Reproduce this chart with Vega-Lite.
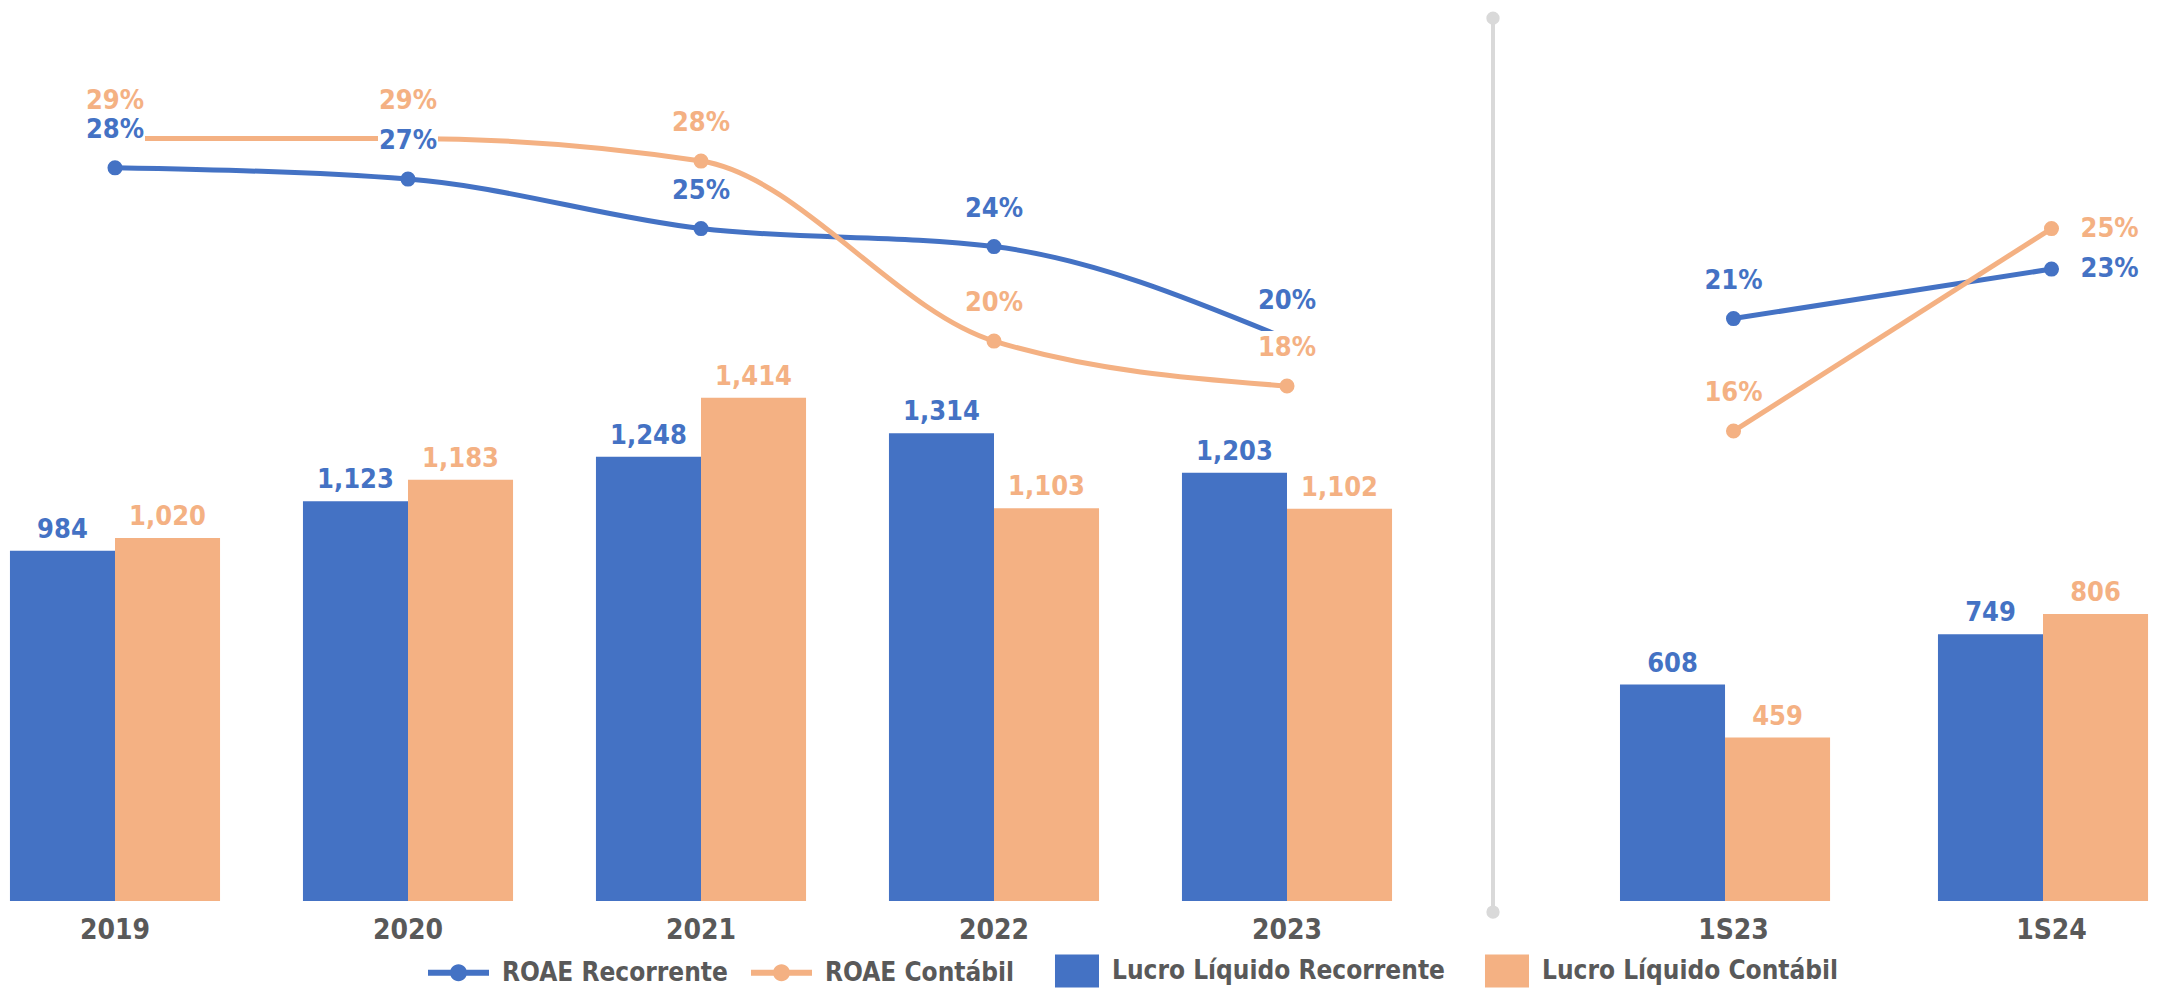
{
  "$schema": "https://vega.github.io/schema/vega-lite/v6.json",
  "padding": 0,
  "background": "white",
  "spacing": 0,
  "config": {
    "view": {"stroke": null},
    "font": "DejaVu Sans Condensed, Liberation Sans Narrow, sans-serif",
    "concat": {"spacing": 0}
  },
  "datasets": {
    "bars": [
      {"period": "2019", "series": "Lucro Líquido Recorrente", "value": 984, "section": "Anual"},
      {"period": "2019", "series": "Lucro Líquido Contábil", "value": 1020, "section": "Anual"},
      {"period": "2020", "series": "Lucro Líquido Recorrente", "value": 1123, "section": "Anual"},
      {"period": "2020", "series": "Lucro Líquido Contábil", "value": 1183, "section": "Anual"},
      {"period": "2021", "series": "Lucro Líquido Recorrente", "value": 1248, "section": "Anual"},
      {"period": "2021", "series": "Lucro Líquido Contábil", "value": 1414, "section": "Anual"},
      {"period": "2022", "series": "Lucro Líquido Recorrente", "value": 1314, "section": "Anual"},
      {"period": "2022", "series": "Lucro Líquido Contábil", "value": 1103, "section": "Anual"},
      {"period": "2023", "series": "Lucro Líquido Recorrente", "value": 1203, "section": "Anual"},
      {"period": "2023", "series": "Lucro Líquido Contábil", "value": 1102, "section": "Anual"},
      {"period": "1S23", "series": "Lucro Líquido Recorrente", "value": 608, "section": "Semestral"},
      {"period": "1S23", "series": "Lucro Líquido Contábil", "value": 459, "section": "Semestral"},
      {"period": "1S24", "series": "Lucro Líquido Recorrente", "value": 749, "section": "Semestral"},
      {"period": "1S24", "series": "Lucro Líquido Contábil", "value": 806, "section": "Semestral"}
    ],
    "roae": [
      {"period": "2019", "series": "ROAE Recorrente", "value": 0.277, "section": "Anual"},
      {"period": "2020", "series": "ROAE Recorrente", "value": 0.272, "section": "Anual"},
      {"period": "2021", "series": "ROAE Recorrente", "value": 0.250, "section": "Anual"},
      {"period": "2022", "series": "ROAE Recorrente", "value": 0.242, "section": "Anual"},
      {"period": "2023", "series": "ROAE Recorrente", "value": 0.201, "section": "Anual"},
      {"period": "2019", "series": "ROAE Contábil", "value": 0.290, "section": "Anual"},
      {"period": "2020", "series": "ROAE Contábil", "value": 0.290, "section": "Anual"},
      {"period": "2021", "series": "ROAE Contábil", "value": 0.280, "section": "Anual"},
      {"period": "2022", "series": "ROAE Contábil", "value": 0.200, "section": "Anual"},
      {"period": "2023", "series": "ROAE Contábil", "value": 0.180, "section": "Anual"},
      {"period": "1S23", "series": "ROAE Recorrente", "value": 0.210, "section": "Semestral"},
      {"period": "1S24", "series": "ROAE Recorrente", "value": 0.232, "section": "Semestral"},
      {"period": "1S23", "series": "ROAE Contábil", "value": 0.160, "section": "Semestral"},
      {"period": "1S24", "series": "ROAE Contábil", "value": 0.250, "section": "Semestral"}
    ]
  },
  "hconcat": [
    {
      "width": 1402,
      "height": 901,
      "layer": [
        {
          "data": {"name": "bars"},
          "transform": [{"filter": "datum.section === 'Anual'"}],
          "encoding": {
            "x": {"field": "period", "type": "nominal",
              "scale": {"domain": ["2019", "2020", "2021", "2022", "2023"], "paddingInner": 0.283, "paddingOuter": 0.034},
              "axis": {"title": null, "labelAngle": 0, "ticks": false, "domain": false, "grid": false, "labelFontSize": 28, "labelFontWeight": "bold", "labelColor": "#595959", "labelPadding": 15}},
            "xOffset": {"field": "series", "type": "nominal", "scale": {"domain": ["Lucro Líquido Recorrente", "Lucro Líquido Contábil"]}},
            "y": {"field": "value", "type": "quantitative", "scale": {"domain": [0, 2531], "nice": false, "zero": false}, "axis": null}
          },
          "layer": [
            {
              "mark": {"type": "bar"},
              "encoding": {
                "color": {"field": "series", "type": "nominal",
                  "scale": {"domain": ["ROAE Recorrente", "ROAE Contábil", "Lucro Líquido Recorrente", "Lucro Líquido Contábil"], "range": ["#4472C4", "#F4B183", "#4472C4", "#F4B183"]},
                  "legend": {
                    "orient": "none", "legendX": 428, "legendY": 940, "direction": "horizontal", "columns": 4, "title": null,
                    "padding": 0, "symbolSize": 3721, "symbolStrokeWidth": 0, "symbolOpacity": 1,
                    "labelFontSize": 26, "labelFontWeight": "bold", "labelColor": "#595959", "labelOffset": 13, "columnPadding": 23, "labelLimit": 600,
                    "encode": {
                      "symbols": {
                        "update": {
                          "shape": {"signal": "(datum.value === 'ROAE Recorrente' || datum.value === 'ROAE Contábil') ? 'M-1,-0.1H1V0.1H-1Z M0.279,0A0.279,0.279 0 1,1 -0.279,0A0.279,0.279 0 1,1 0.279,0Z' : 'M-0.443,-0.541H1V0.541H-0.443Z'"},
                          "fill": {"scale": "color", "field": "value"},
                          "opacity": {"value": 1}
                        }
                      }
                    }
                  }
                }
              }
            },
            {
              "mark": {"type": "text", "baseline": "alphabetic", "dy": -13, "fontSize": 27, "fontWeight": "bold"},
              "encoding": {
                "text": {"field": "value", "type": "quantitative", "format": ",.0f"},
                "color": {"field": "series", "type": "nominal", "legend": null}
              }
            }
          ]
        },
        {
          "data": {"name": "roae"},
          "transform": [{"filter": "datum.section === 'Anual'"}],
          "encoding": {
            "x": {"field": "period", "type": "nominal",
              "scale": {"domain": ["2019", "2020", "2021", "2022", "2023"], "paddingInner": 0.283, "paddingOuter": 0.034},
              "axis": {"title": null, "labelAngle": 0, "ticks": false, "domain": false, "grid": false, "labelFontSize": 28, "labelFontWeight": "bold", "labelColor": "#595959", "labelPadding": 15}},
            "y": {"field": "value", "type": "quantitative", "scale": {"domain": [-0.0489, 0.3516], "nice": false, "zero": false}, "axis": null}
          },
          "layer": [
            {
              "mark": {"type": "line", "interpolate": "monotone", "strokeWidth": 5},
              "encoding": {"color": {"field": "series", "type": "nominal", "legend": null}}
            },
            {
              "mark": {"type": "point", "filled": true, "size": 227, "opacity": 1},
              "encoding": {"color": {"field": "series", "type": "nominal", "legend": null}}
            },
            {
              "mark": {"type": "point", "filled": true, "opacity": 1, "color": "white", "size": 3600, "yOffset": -37, "shape": "M-1,-0.6H1V0.6H-1Z"}
            },
            {
              "mark": {"type": "text", "baseline": "middle", "dy": -38, "fontSize": 27, "fontWeight": "bold"},
              "encoding": {
                "text": {"field": "value", "type": "quantitative", "format": ".0%"},
                "color": {"field": "series", "type": "nominal", "legend": null}
              }
            }
          ]
        }
      ],
      "resolve": {"scale": {"y": "independent"}}
    },
    {
      "width": 182,
      "height": 901,
      "data": {"values": [{"divider": "separador", "inicio": 2480, "fim": -31}]},
      "encoding": {
        "x": {"field": "divider", "type": "nominal", "axis": null}
      },
      "layer": [
        {
          "mark": {"type": "rule", "color": "#D9D9D9", "strokeWidth": 4},
          "encoding": {
            "y": {"field": "inicio", "type": "quantitative", "scale": {"domain": [0, 2531], "nice": false, "zero": false}, "axis": null},
            "y2": {"field": "fim"}
          }
        },
        {
          "mark": {"type": "point", "filled": true, "color": "#D9D9D9", "size": 177, "opacity": 1},
          "encoding": {"y": {"field": "inicio", "type": "quantitative", "axis": null}}
        },
        {
          "mark": {"type": "point", "filled": true, "color": "#D9D9D9", "size": 177, "opacity": 1},
          "encoding": {"y": {"field": "fim", "type": "quantitative", "axis": null}}
        }
      ]
    },
    {
      "width": 595,
      "height": 901,
      "layer": [
        {
          "data": {"name": "bars"},
          "transform": [{"filter": "datum.section === 'Semestral'"}],
          "encoding": {
            "x": {"field": "period", "type": "nominal",
              "scale": {"domain": ["1S23", "1S24"], "paddingInner": 0.286, "paddingOuter": 0.0786, "align": 0.72},
              "axis": {"title": null, "labelAngle": 0, "ticks": false, "domain": false, "grid": false, "labelFontSize": 28, "labelFontWeight": "bold", "labelColor": "#595959", "labelPadding": 15}},
            "xOffset": {"field": "series", "type": "nominal", "scale": {"domain": ["Lucro Líquido Recorrente", "Lucro Líquido Contábil"]}},
            "y": {"field": "value", "type": "quantitative", "scale": {"domain": [0, 2531], "nice": false, "zero": false}, "axis": null}
          },
          "layer": [
            {
              "mark": {"type": "bar"},
              "encoding": {"color": {"field": "series", "type": "nominal", "legend": null}}
            },
            {
              "mark": {"type": "text", "baseline": "alphabetic", "dy": -13, "fontSize": 27, "fontWeight": "bold"},
              "encoding": {
                "text": {"field": "value", "type": "quantitative", "format": ",.0f"},
                "color": {"field": "series", "type": "nominal", "legend": null}
              }
            }
          ]
        },
        {
          "data": {"name": "roae"},
          "transform": [{"filter": "datum.section === 'Semestral'"}],
          "encoding": {
            "x": {"field": "period", "type": "nominal",
              "scale": {"domain": ["1S23", "1S24"], "paddingInner": 0.286, "paddingOuter": 0.0786, "align": 0.72},
              "axis": {"title": null, "labelAngle": 0, "ticks": false, "domain": false, "grid": false, "labelFontSize": 28, "labelFontWeight": "bold", "labelColor": "#595959", "labelPadding": 15}},
            "y": {"field": "value", "type": "quantitative", "scale": {"domain": [-0.0489, 0.3516], "nice": false, "zero": false}, "axis": null}
          },
          "layer": [
            {
              "mark": {"type": "line", "interpolate": "linear", "strokeWidth": 5},
              "encoding": {"color": {"field": "series", "type": "nominal", "legend": null}}
            },
            {
              "mark": {"type": "point", "filled": true, "size": 227, "opacity": 1},
              "encoding": {"color": {"field": "series", "type": "nominal", "legend": null}}
            },
            {
              "transform": [{"filter": "datum.period === '1S23'"}],
              "mark": {"type": "text", "baseline": "middle", "dy": -38, "fontSize": 27, "fontWeight": "bold"},
              "encoding": {
                "text": {"field": "value", "type": "quantitative", "format": ".0%"},
                "color": {"field": "series", "type": "nominal", "legend": null}
              }
            },
            {
              "transform": [{"filter": "datum.period === '1S24'"}],
              "mark": {"type": "text", "baseline": "middle", "align": "left", "dx": 29, "fontSize": 27, "fontWeight": "bold"},
              "encoding": {
                "text": {"field": "value", "type": "quantitative", "format": ".0%"},
                "color": {"field": "series", "type": "nominal", "legend": null}
              }
            }
          ]
        }
      ],
      "resolve": {"scale": {"y": "independent"}}
    }
  ]
}
